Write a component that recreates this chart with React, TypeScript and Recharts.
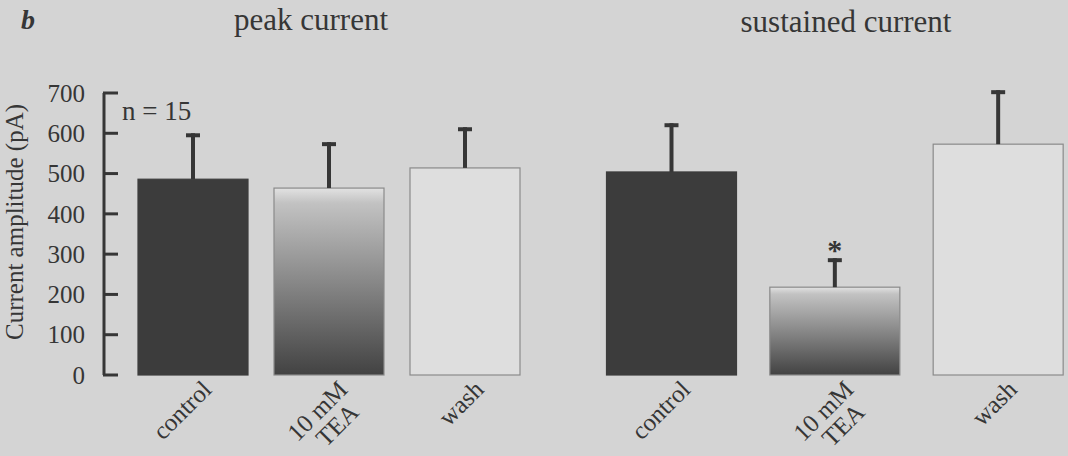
import React from 'react';
import { BarChart, XAxis, YAxis, Bar, Cell } from 'recharts';

const categories = ['control', '10 mM\nTEA', 'wash'];
const peakMean = [486, 464, 514];
const peakSem = [114, 114, 101];
const sustainedMean = [504, 218, 573];
const sustainedSem = [121, 72, 134];
const sustainedSig = ['', '*', ''];
const yTicks = [0, 100, 200, 300, 400, 500, 600, 700];

const peakData = categories.map((c, i) => ({ name: c, mean: peakMean[i], sem: peakSem[i], sig: '' }));
const sustainedData = categories.map((c, i) => ({
  name: c,
  mean: sustainedMean[i],
  sem: sustainedSem[i],
  sig: sustainedSig[i],
}));

const font = '"Liberation Serif", "Times New Roman", serif';
const ink = '#363636';
const bg = '#d4d4d4';

const YTick = (props: any) => {
  const { x, y, payload } = props;
  return (
    <g>
      <line x1={x + 18} x2={x + 33} y1={y} y2={y} stroke={ink} strokeWidth={3} />
      <text x={x} y={y} dy="0.35em" textAnchor="end" fontSize={25} fontFamily={font} fill={ink}>
        {payload.value}
      </text>
    </g>
  );
};

const XTick = (props: any) => {
  const { x, y, payload } = props;
  const lines = String(payload.value).split('\n');
  return (
    <g transform={`translate(${x + 20},${y + 16}) rotate(-45)`}>
      {lines.map((l, i) => (
        <text key={i} x={-8 * i} y={i * 24} textAnchor="end" fontSize={25} fontFamily={font} fill={ink}>
          {l}
        </text>
      ))}
    </g>
  );
};

const BarWithErr = (props: any) => {
  const { x, y, width, height, payload, fill, stroke } = props;
  const perUnit = payload.mean ? height / payload.mean : 0;
  const errTop = y - payload.sem * perUnit;
  const cx = x + width / 2;
  return (
    <g>
      <rect x={x} y={y} width={width} height={height} fill={fill} stroke={stroke} strokeWidth={1.2} />
      <line x1={cx} x2={cx} y1={y} y2={errTop} stroke={ink} strokeWidth={4} />
      <line x1={cx - 7} x2={cx + 7} y1={errTop + 2} y2={errTop + 2} stroke={ink} strokeWidth={4} />
      {payload.sig ? (
        <text x={cx} y={errTop + 2} textAnchor="middle" fontSize={30} fontWeight="bold" fontFamily={font} fill={ink}>
          {payload.sig}
        </text>
      ) : null}
    </g>
  );
};

const fills = ['#3c3c3c', 'url(#teaGrad)', '#dedede'];
const strokes = ['#3c3c3c', '#8a8a8a', '#8a8a8a'];

const Grad = ({ id }: { id: string }) => (
  <defs>
    <linearGradient id={id} x1="0" y1="0" x2="0" y2="1">
      <stop offset="0%" stopColor="#e2e2e2" />
      <stop offset="8%" stopColor="#c2c2c2" />
      <stop offset="50%" stopColor="#888888" />
      <stop offset="100%" stopColor="#424242" />
    </linearGradient>
  </defs>
);

export default function App() {
  return (
    <div
      style={{
        position: 'absolute',
        left: 0,
        top: 0,
        width: 1068,
        height: 456,
        overflow: 'hidden',
        background: bg,
        fontFamily: font,
        color: ink,
      }}
    >
      <div style={{ position: 'absolute', left: 21, top: 4, fontSize: 28, fontWeight: 'bold', fontStyle: 'italic' }}>b</div>
      <div style={{ position: 'absolute', left: 311, top: 2, fontSize: 31, transform: 'translateX(-50%)', whiteSpace: 'nowrap' }}>
        peak current
      </div>
      <div style={{ position: 'absolute', left: 846, top: 4, fontSize: 31, transform: 'translateX(-50%)', whiteSpace: 'nowrap' }}>
        sustained current
      </div>
      <div
        style={{
          position: 'absolute',
          left: 15,
          top: 222,
          fontSize: 25,
          whiteSpace: 'nowrap',
          transform: 'translate(-50%, -50%) rotate(-90deg)',
        }}
      >
        Current amplitude (pA)
      </div>
      <div style={{ position: 'absolute', left: 122, top: 96, fontSize: 27, whiteSpace: 'nowrap' }}>n = 15</div>

      <div style={{ position: 'absolute', left: 0, top: 0 }}>
        <BarChart width={533} height={456} data={peakData} margin={{ top: 93, right: 0, left: 0, bottom: 0 }} barCategoryGap={13}>
          <Grad id="teaGrad" />
          <YAxis
            width={104}
            domain={[0, 700]}
            ticks={yTicks}
            tickSize={0}
            tickMargin={19}
            tick={<YTick />}
            tickLine={false}
            axisLine={{ stroke: ink, strokeWidth: 3 }}
            interval={0}
          />
          <XAxis dataKey="name" height={81} padding={{ left: 21, right: 0 }} axisLine={false} tickLine={false} tickSize={0} tickMargin={0} tick={<XTick />} interval={0} />
          <Bar dataKey="mean" isAnimationActive={false} shape={<BarWithErr />}>
            {peakData.map((d, i) => (
              <Cell key={d.name} fill={fills[i]} stroke={strokes[i]} />
            ))}
          </Bar>
        </BarChart>
      </div>

      <div style={{ position: 'absolute', left: 590, top: 0 }}>
        <BarChart width={490} height={456} data={sustainedData} margin={{ top: 93, right: 0, left: 0, bottom: 0 }} barCategoryGap={16.5}>
          <Grad id="teaGrad2" />
          <YAxis hide domain={[0, 700]} ticks={yTicks} />
          <XAxis dataKey="name" height={81} axisLine={false} tickLine={false} tickSize={0} tickMargin={0} tick={<XTick />} interval={0} />
          <Bar dataKey="mean" isAnimationActive={false} shape={<BarWithErr />}>
            {sustainedData.map((d, i) => (
              <Cell key={d.name} fill={i === 1 ? 'url(#teaGrad2)' : fills[i]} stroke={strokes[i]} />
            ))}
          </Bar>
        </BarChart>
      </div>
    </div>
  );
}
